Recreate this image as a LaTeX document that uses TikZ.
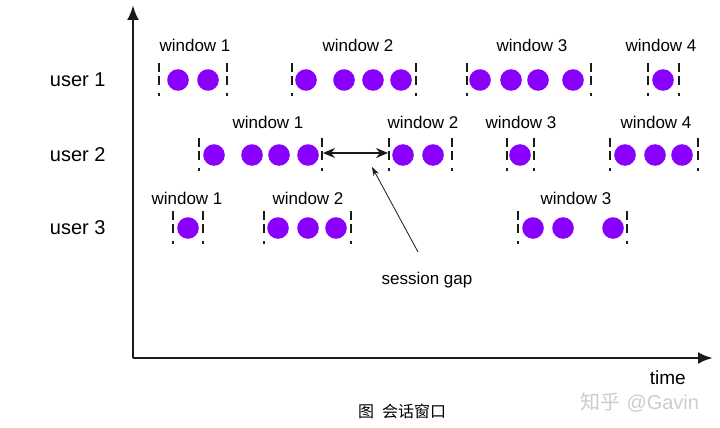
\documentclass[tikz,border=0pt]{standalone}
\usepackage{fontspec}
\setmainfont{Liberation Sans}
\newfontfamily\cjk{Noto Sans CJK SC}
\usepackage{tikz}
\usetikzlibrary{arrows.meta,calc,positioning}
\usepackage{xcolor}
\definecolor{evt}{HTML}{8A00FF}
\definecolor{ink}{HTML}{1A1A1A}
\definecolor{wmgray}{HTML}{CCCCCC}

\begin{document}
\begin{tikzpicture}[x=1pt, y=-1pt, >={Stealth[length=12pt,width=10pt]},
    font=\fontsize{17}{20}\selectfont]
  \useasboundingbox (0,0) rectangle (720,428);
  \tikzset{
    axis/.style={ink, line width=2.8pt, -{Latex[length=15pt,width=12pt]}},
    bar/.style={ink, line width=2.3pt, dash pattern=on 9pt off 4pt on 9pt off 8pt on 3pt},
    ev/.style={fill=evt}
  }
  % axes
  \coordinate (orig) at (133,358);
  \coordinate (ytop) at (133,5);
  \coordinate (xend) at (713,358);
  \draw[axis] (orig) -- (ytop);
  \draw[axis] (orig) -- (xend);
  \node[anchor=north east, inner sep=0pt, font=\fontsize{19}{22}\selectfont] (time) at (686,371) {time};

  % users
  \foreach \y/\n in {80/1,155/2,228/3}
    \node[anchor=east, font=\fontsize{20}{24}\selectfont] (u\n) at (109,\y) {user \n};

  % user 1
  \foreach \l/\r/\t/\cs [count=\i] in {159/227/195/{178,208}, 292/416/358/{306,344,373,401},
      467/591/532/{480,511,538,573}, 648/679/661/{663}} {
    \draw[bar] (\l,63) -- (\l,97); \draw[bar] (\r,63) -- (\r,97);
    \foreach \x in \cs { \fill[ev] (\x,80) circle (10.8pt); }
    \node (a\i) at (\t,45) {window \i};
  }
  % user 2
  \foreach \l/\r/\t/\cs [count=\i] in {199/322/268/{214,252,279,308}, 389/452/423/{403,433},
      507/534/521/{520}, 610/698/656/{625,655,682}} {
    \draw[bar] (\l,138) -- (\l,172); \draw[bar] (\r,138) -- (\r,172);
    \foreach \x in \cs { \fill[ev] (\x,155) circle (10.8pt); }
    \node (b\i) at (\t,122) {window \i};
  }
  % user 3
  \foreach \l/\r/\t/\cs [count=\i] in {173/203/187/{188}, 264/351/308/{278,308,336},
      518/627/576/{533,563,613}} {
    \draw[bar] (\l,211) -- (\l,245); \draw[bar] (\r,211) -- (\r,245);
    \foreach \x in \cs { \fill[ev] (\x,228) circle (10.8pt); }
    \node (c\i) at (\t,198) {window \i};
  }

  % session gap
  \coordinate (gapL) at (323,153);
  \coordinate (gapR) at (388,153);
  \draw[ink, line width=2pt, <->] (gapL) -- (gapR);
  \node (gap) at (427,280) {session gap};
  \coordinate (gapTip) at (372,167);
  \coordinate (gapFoot) at (418,252);
  \draw[ink, line width=0.8pt, -{Stealth[length=9pt,width=6pt]}] (gapFoot) -- (gapTip);

  % caption and watermark
  \node[font=\cjk\fontsize{16}{18}\selectfont] (cap) at (402,411) {图\enspace 会话窗口};
  \node[wmgray, anchor=north, inner sep=0pt, font=\fontsize{20}{23}\selectfont] (wm) at (640,392) {{\cjk 知乎} @Gavin};
\end{tikzpicture}
\end{document}
